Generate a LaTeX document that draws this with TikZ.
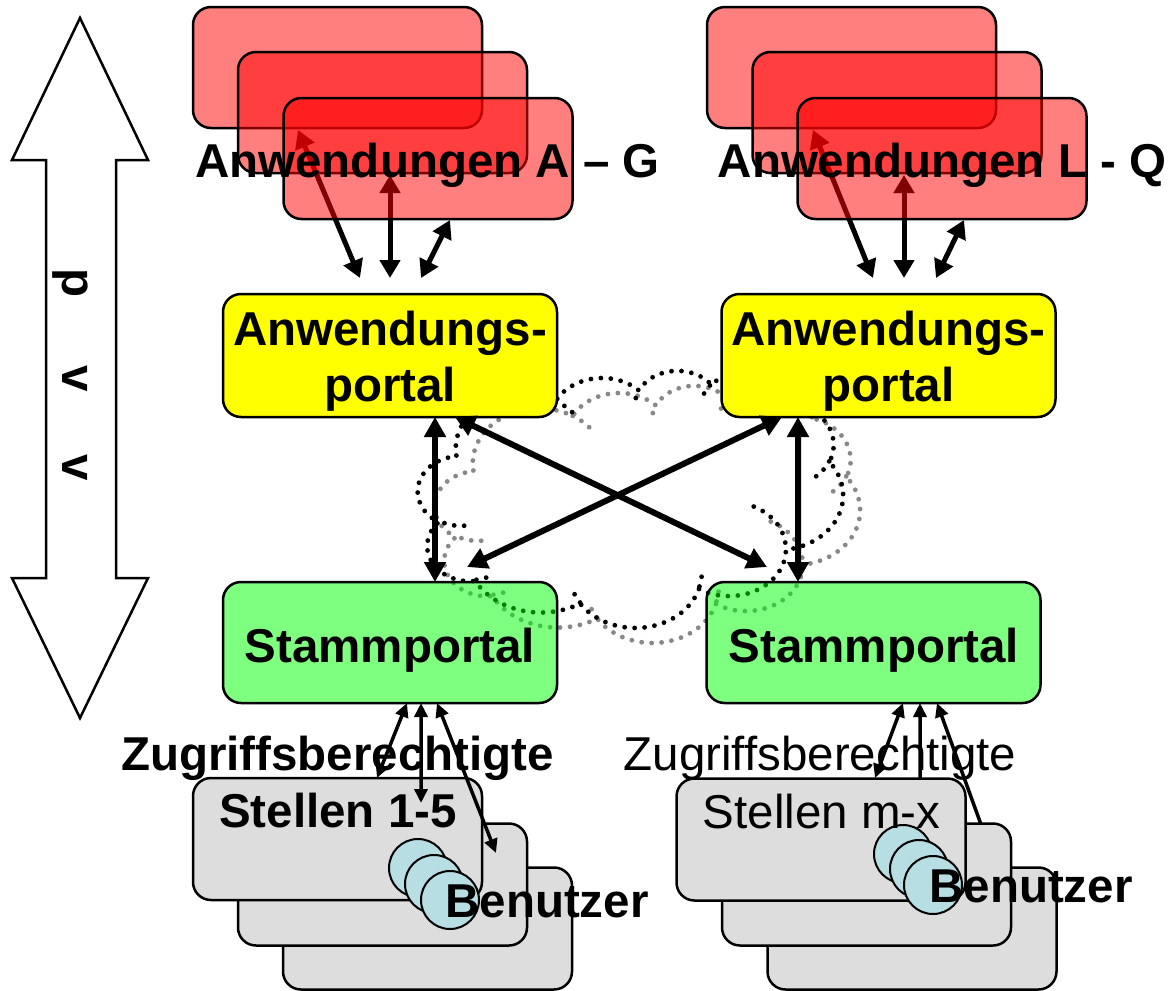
\documentclass[tikz,border=0pt]{standalone}
\usepackage{fontspec}
\setmainfont{Liberation Sans}
\usetikzlibrary{arrows.meta}
\definecolor{boxgray}{HTML}{DDDDDD}
\definecolor{personblue}{HTML}{B7DEE2}
\definecolor{shadowgray}{HTML}{888888}
\definecolor{portalyellow}{HTML}{FFFF00}
\newcommand\bigtext{\fontsize{47.5bp}{55bp}\selectfont}
\newcommand\oocalc[4]{%
  \pgfmathsetmacro\ooTa{atan2(sin(#3)*(#1),cos(#3)*(#2))}%
  \pgfmathsetmacro\ooTb{atan2(sin((#3)+(#4))*(#1),cos((#3)+(#4))*(#2))}%
  \pgfmathsetmacro\ooDa{\ooTb-\ooTa}%
  \pgfmathsetmacro\ooDb{\ooDa-360*round((\ooDa-(#4))/360)}%
  \xdef\ooT{\ooTa}\xdef\ooDD{\ooDb}%
}
\newcommand\ooarc[4]{\pgfextra{\oocalc{#1}{#2}{#3}{#4}} arc[start angle=\ooT, delta angle=\ooDD, x radius=#1bp, y radius=#2bp]}
\begin{document}
\begin{tikzpicture}[x=1bp,y=-1bp,
  every node/.style={inner sep=0pt, outer sep=0pt},
  box/.style={draw=black, line width=2.5bp, rounded corners=18bp, minimum width=289bp, minimum height=121bp},
  redbox/.style={box, fill=red, fill opacity=0.5},
  graybox/.style={box, fill=boxgray, minimum height=122bp},
  yportal/.style={box, fill=portalyellow, minimum width=334bp, minimum height=123bp},
  gportal/.style={box, fill=green, fill opacity=0.5, minimum width=334bp, minimum height=121bp},
  person/.style={circle, draw=black, line width=2bp, fill=personblue, minimum size=58bp},
  lbl/.style={anchor=base, font=\bigtext\bfseries, text=black},
  lblr/.style={anchor=base, font=\bigtext, text=black},
  toparr/.style={line width=5bp, >={Triangle[length=18bp,width=20bp]}, <->},
  midarr/.style={line width=6bp, >={Triangle[length=20bp,width=21bp]}, <->},
  lowarr/.style={line width=3.5bp, >={Triangle[length=14bp,width=13bp]}, <->},
  lowarrup/.style={line width=3.5bp, >={Triangle[length=14bp,width=13bp]}, <-},
  cloudline/.style={line width=4.8bp, line cap=round, dash pattern=on 0bp off 10bp},
  bigarrow/.style={draw=black, line width=2.5bp, fill=white, line join=miter},
]
\useasboundingbox (0,0) rectangle (1168,991);

% vertical double arrow
\draw[bigarrow] (80,18) -- (148,160) -- (116,160) -- (116,578) -- (148,578) -- (80,718)
  -- (12,578) -- (46,578) -- (46,160) -- (12,160) -- cycle;
\node[lbl, rotate=-90] (tp) at (62.5,283) {p};
\node[lbl, rotate=-90] (tv1) at (62.5,379) {v};
\node[lbl, rotate=-90] (tv2) at (62.5,468) {v};

% arrow end points (top groups)
\coordinate (aLa1) at (298,130); \coordinate (aLa2) at (360,278);
\coordinate (aLb1) at (390,175); \coordinate (aLb2) at (390,278);
\coordinate (aLc1) at (450,220); \coordinate (aLc2) at (421,278);
\coordinate (aRa1) at (813,130); \coordinate (aRa2) at (873,278);
\coordinate (aRb1) at (904,175); \coordinate (aRb2) at (904,278);
\coordinate (aRc1) at (964,220); \coordinate (aRc2) at (936,278);
\draw[toparr] (aLa1) -- (aLa2);
\draw[toparr] (aLb1) -- (aLb2);
\draw[toparr] (aLc1) -- (aLc2);
\draw[toparr] (aRa1) -- (aRa2);
\draw[toparr] (aRb1) -- (aRb2);
\draw[toparr] (aRc1) -- (aRc2);

% application stacks
\node[redbox] (rL1) at (337.5,67.5) {};
\node[redbox] (rL2) at (382.5,112.5) {};
\node[redbox] (rL3) at (428,158.5) {};
\node[redbox] (rR1) at (851.5,67.5) {};
\node[redbox] (rR2) at (897,112.5) {};
\node[redbox] (rR3) at (942,158.5) {};
\node[lbl] (tAG) at (427.5,177) {Anwendungen A – G};
\node[lbl] (tLQ) at (942,177) {Anwendungen L - Q};

% cloud (shadow + outline)
\foreach \cc/\sx/\sy in {shadowgray/435/385, black/418/370}{
 \begin{scope}[x=1bp,y=1bp,shift={(\sx,-\sy)},xscale=0.98380,yscale=-0.59491]
  \draw[cloudline,\cc] (39,143.7)
    \ooarc{67.53}{91.90}{-190.48748}{123.78053}
    \ooarc{53.33}{72.67}{-144.10238}{89.94523}
    \ooarc{43.65}{59.45}{-145.80792}{99.72302}
    \ooarc{48.57}{65.95}{-130.98607}{117.24173}
    \ooarc{53.33}{72.73}{-78.70888}{109.02692}
    \ooarc{67.75}{92.20}{-46.26725}{130.26900}
    \ooarc{57.85}{78.67}{0.62502}{114.03333}
    \ooarc{67.52}{92.15}{22.45160}{115.17255}
    \ooarc{77.20}{105.43}{66.24263}{75.71102}
    \ooarc{43.60}{59.18}{-274.94208}{146.73557}
    \ooarc{43.45}{59.45}{-246.82850}{152.51885}
    -- cycle;
  \draw[cloudline,\cc]
    (46.93,261.77) \ooarc{43.45}{59.45}{86.74200}{26.42950}
    (69.28,348.99) \ooarc{43.60}{59.18}{73.61047}{11.44747}
    (164.78,390.90) \ooarc{67.52}{92.15}{137.62415}{14.08110}
    (288.27,347.51) \ooarc{67.52}{92.15}{6.45327}{15.99835}
    (341.29,229.54) \ooarc{57.85}{78.67}{-70.29235}{70.91737}
    (417.98,153.54) \ooarc{53.33}{72.73}{30.31803}{27.75150}
    (383.24,54.26) \ooarc{48.57}{65.95}{-13.74433}{14.85890}
    (290.78,39.52) \ooarc{48.57}{65.95}{-149.18145}{18.19537}
    (221.41,47.20) \ooarc{43.65}{59.45}{-163.49427}{11.44905}
    (140.00,51.92) \ooarc{67.53}{91.90}{-66.71000}{20.00000};
 \end{scope}
}

% portals
\node[yportal] (apL) at (390,355.5) {};
\node[yportal] (apR) at (888.5,355.5) {};
\node[lbl] (apLt1) at (390,345) {Anwendungs-};
\node[lbl] (apLt2) at (390,401) {portal};
\node[lbl] (apRt1) at (888.5,345) {Anwendungs-};
\node[lbl] (apRt2) at (888.5,401) {portal};
\node[gportal] (spL) at (390,642.5) {};
\node[gportal] (spR) at (873.5,642.5) {};
\node[lbl] (spLt) at (390,662) {Stammportal};
\node[lbl] (spRt) at (874,662) {Stammportal};

% portal connections
\coordinate (xR) at (767,567);
\coordinate (xL) at (467,567);
\draw[midarr] ([xshift=45bp]apL.south) -- ([xshift=45bp]spL.north);
\draw[midarr] ([xshift=-90.5bp]apR.south) -- ([xshift=-75.5bp]spR.north);
\draw[midarr] ([xshift=65bp]apL.south) -- (xR);
\draw[midarr] ([xshift=-106.5bp]apR.south) -- (xL);

% right lower arrows (behind the boxes)
\coordinate (bRa) at (875,778);
\coordinate (bRb) at (920,790);
\coordinate (bRc) at (983,830);
\draw[lowarr] ([xshift=29.5bp]spR.south) -- (bRa);
\draw[lowarrup] ([xshift=46.5bp]spR.south) -- (bRb);
\draw[lowarrup] ([xshift=63.5bp]spR.south) -- (bRc);

% office stacks
\node[graybox] (gL3) at (427.5,928.5) {};
\node[graybox] (gL2) at (382.5,884.5) {};
\node[graybox] (gL1) at (337.5,839) {};
\node[graybox] (gR3) at (912,928.5) {};
\node[graybox] (gR2) at (866.5,884.5) {};
\node[graybox] (gR1) at (821,839.5) {};
\node[person] (pL1) at (418,868) {};
\node[person] (pL2) at (434,884) {};
\node[person] (pL3) at (450,900) {};
\node[person] (pR1) at (903,854) {};
\node[person] (pR2) at (919,869) {};
\node[person] (pR3) at (933,885) {};

\node[lbl] (zL) at (337.5,770) {Zugriffsberechtigte};
\node[lblr] (zR) at (820,770) {Zugriffsberechtigte};
\node[lbl] (sL) at (338,827) {Stellen 1-5};
\node[lblr] (sR) at (821.5,828) {Stellen m-x};
\node[lbl] (bL) at (547,917) {Benutzer};
\node[lbl] (bR) at (1031,902) {Benutzer};

% left lower arrows
\coordinate (bLa) at (377,778);
\coordinate (bLb) at (421,803);
\coordinate (bLc) at (496,853);
\draw[lowarr] ([xshift=17bp]spL.south) -- (bLa);
\draw[lowarr] ([xshift=31bp]spL.south) -- (bLb);
\draw[lowarr] ([xshift=47bp]spL.south) -- (bLc);
\end{tikzpicture}
\end{document}
